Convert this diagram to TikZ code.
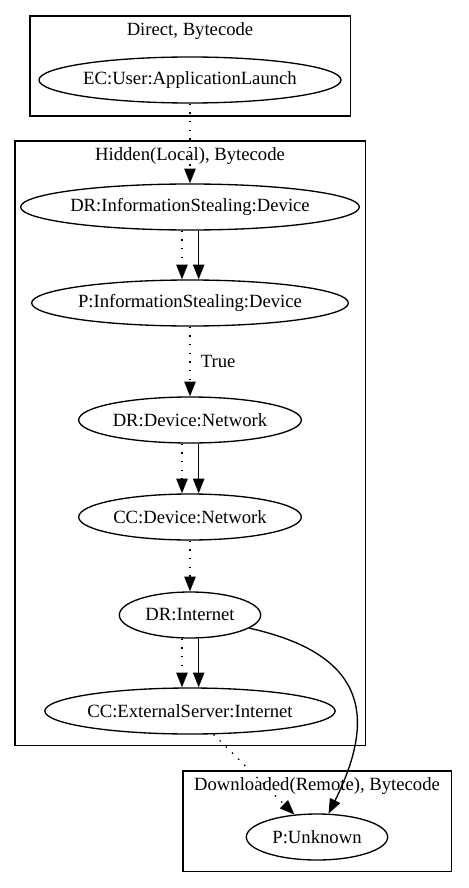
\documentclass[tikz,border=0pt]{standalone}
\usepackage{fontspec}
\setmainfont{Liberation Serif}
\usetikzlibrary{shapes.geometric,arrows.meta}
\tikzset{
  gvnode/.style={draw, ellipse, line width=1pt, inner sep=0pt, minimum height=34.5pt},
  cluster/.style={draw, line width=1pt},
  dotedge/.style={line width=1pt, dash pattern=on 1pt off 5.5pt, -{Triangle[length=11pt,width=8.5pt]}},
  solidedge/.style={line width=1pt, -{Triangle[length=11pt,width=8.5pt]}}
}
\begin{document}
\begin{tikzpicture}[x=0.75pt,y=-0.75pt]
\useasboundingbox (0,0) rectangle (468,888);
{\fontsize{14}{17}\selectfont

% Drawing cluster Direct
\draw [cluster] (30,16) rectangle (350.5,116);
\node (titledirect) at (190,31) {Direct, Bytecode};

% Drawing cluster Hidden
\draw [cluster] (15,141) rectangle (365.5,745.5);
\node (titlehidden) at (190,156) {Hidden(Local), Bytecode};

% Drawing cluster Downloaded
\draw [cluster] (183,771) rectangle (451.5,871.5);
\node (titleremote) at (317,786) {Downloaded(Remote), Bytecode};

% Marking nodes
\node [gvnode, minimum width=226pt] (ec) at (190,80) {EC:User:ApplicationLaunch};
\node [gvnode, minimum width=245pt] (dris) at (190,207) {DR:InformationStealing:Device};
\node [gvnode, minimum width=232pt] (pis) at (190,303) {P:InformationStealing:Device};
\node [gvnode, minimum width=167pt] (drdn) at (190,420) {DR:Device:Network};
\node [gvnode, minimum width=167pt] (ccdn) at (190,517) {CC:Device:Network};
\node [gvnode, minimum width=106pt] (dri) at (190,615) {DR:Internet};
\node [gvnode, minimum width=215pt] (cces) at (190,711) {CC:ExternalServer:Internet};
\node [gvnode, minimum width=106pt] (pu) at (317,837) {P:Unknown};

% Drawing edges
\draw [dotedge] (ec) -- (dris);
\draw [dotedge] ([xshift=-6pt]dris.south) -- ([xshift=-6pt]pis.north);
\draw [solidedge] ([xshift=6.5pt]dris.south) -- ([xshift=6.5pt]pis.north);
\draw [dotedge] (pis) -- node [right=3pt] {True} (drdn);
\draw [dotedge] ([xshift=-6pt]drdn.south) -- ([xshift=-6pt]ccdn.north);
\draw [solidedge] ([xshift=6.5pt]drdn.south) -- ([xshift=6.5pt]ccdn.north);
\draw [dotedge] (ccdn) -- (dri);
\draw [dotedge] ([xshift=-6pt]dri.south) -- ([xshift=-6pt]cces.north);
\draw [solidedge] ([xshift=6.5pt]dri.south) -- ([xshift=6.5pt]cces.north);
\draw [solidedge] (dri) .. controls (370,655) and (375,720) .. (pu);
\draw [dotedge] (cces) -- (pu);
}
\end{tikzpicture}
\end{document}
